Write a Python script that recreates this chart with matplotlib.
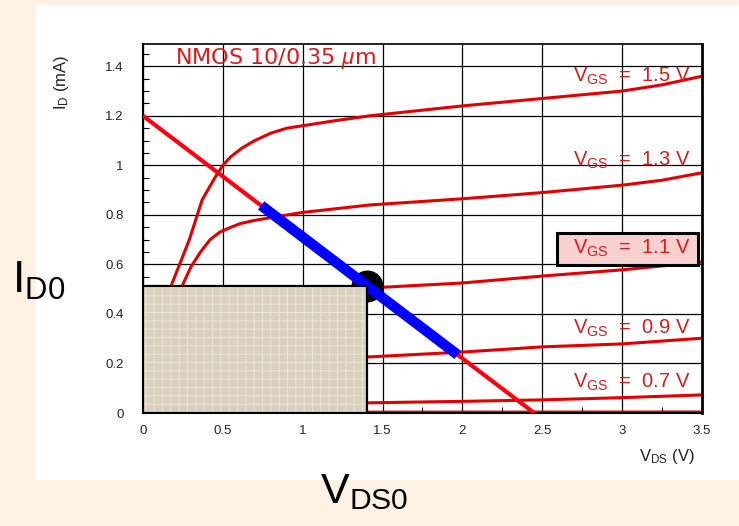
import numpy as np
import matplotlib.pyplot as plt
from matplotlib.patches import Rectangle

plt.rcParams['font.family'] = ['Liberation Sans', 'DejaVu Sans']
plt.rcParams['mathtext.fontset'] = 'custom'
plt.rcParams['mathtext.rm'] = 'Liberation Sans'
plt.rcParams['mathtext.it'] = 'Liberation Sans:italic'
plt.rcParams['hatch.linewidth'] = 0.7

### DADOS ###

# curvas I_D x V_DS (mA x V) para cada V_GS
vgs_labels = ['1.5', '1.3', '1.1', '0.9', '0.7']
vds_15 = [0.0, 0.10, 0.18, 0.29, 0.37, 0.45, 0.50, 0.55, 0.62, 0.70, 0.80, 0.90, 1.0, 1.2, 1.42,
          2.0, 2.5, 3.0, 3.25, 3.5]
id_15 = [0.0, 0.22, 0.52, 0.70, 0.86, 0.95, 1.00, 1.035, 1.07, 1.10, 1.13, 1.15, 1.16, 1.18, 1.20,
         1.24, 1.27, 1.30, 1.325, 1.36]
vds_13 = [0.0, 0.12, 0.25, 0.30, 0.36, 0.42, 0.48, 0.55, 0.61, 0.70, 0.81, 1.0, 1.42, 2.0, 2.5,
          3.0, 3.25, 3.5]
id_13 = [0.0, 0.25, 0.52, 0.59, 0.65, 0.70, 0.73, 0.75, 0.765, 0.778, 0.79, 0.81, 0.84, 0.865,
         0.89, 0.92, 0.94, 0.97]
vds_11 = [0.0, 0.3, 0.6, 1.0, 1.42, 2.0, 2.5, 3.0, 3.5]
id_11 = [0.0, 0.35, 0.46, 0.49, 0.505, 0.525, 0.553, 0.578, 0.61]
vds_09 = [0.0, 0.3, 0.7, 1.4, 2.0, 2.5, 3.0, 3.5]
id_09 = [0.0, 0.18, 0.215, 0.226, 0.246, 0.267, 0.279, 0.302]
vds_07 = [0.0, 0.2, 0.6, 1.4, 2.0, 2.5, 3.0, 3.5]
id_07 = [0.0, 0.03, 0.038, 0.041, 0.047, 0.053, 0.062, 0.073]
vds_05 = [0.0, 3.5]
id_05 = [0.003, 0.004]

# posicao dos rotulos V_GS (corrente em mA)
label_y = [1.36, 1.02, 0.663, 0.343, 0.125]

# reta de carga
load_v = [0.0, 2.45]
load_i = [1.2, 0.0]
# trecho azul sobre a reta de carga
blue_v = [0.74, 1.97]
blue_i = [0.838, 0.235]
# ponto de operacao
vq = 1.405
iq = 0.513

### FIGURA ###

fig = plt.figure(figsize=(7.39, 5.26), dpi=100, facecolor='#FDF1E4')
fig.patches.append(Rectangle((36/739, 1-480/526), (739-36)/739, (480-5)/526,
                             transform=fig.transFigure, facecolor='white',
                             edgecolor='none', zorder=-10))

ax = fig.add_axes([143/739, 1-413/526, (702-143)/739, (413-44)/526])
ax.set_xlim(0, 3.5)
ax.set_ylim(0, 1.49)

xt = np.arange(0, 3.51, 0.5)
yt = np.arange(0, 1.41, 0.2)
ax.set_xticks(xt)
ax.set_xticklabels(['0', '0.5', '1', '1.5', '2', '2.5', '3', '3.5'])
ax.set_yticks(yt)
ax.set_yticklabels(['0', '0.2', '0.4', '0.6', '0.8', '1', '1.2', '1.4'])
ax.set_xticks(np.arange(0, 3.51, 0.25), minor=True)
ax.set_yticks(np.arange(0, 1.49, 0.05), minor=True)
ax.tick_params(which='both', direction='in', colors='black', labelcolor='#222222',
               labelsize=9.5)
ax.tick_params(which='major', length=0)
ax.tick_params(which='minor', length=4, width=0.8)
ax.tick_params(axis='y', pad=14)
ax.tick_params(axis='x', pad=9)
ax.grid(True, which='major', color='black', lw=0.9)
ax.set_axisbelow(True)
for s in ax.spines.values():
    s.set_linewidth(1.2)
ax.spines['right'].set_linewidth(2)
ax.spines['bottom'].set_linewidth(1.5)
ax.spines['left'].set_linewidth(1.5)

curve_red = '#E30000'
for vv, ii in [(vds_15, id_15), (vds_13, id_13), (vds_11, id_11),
               (vds_09, id_09), (vds_07, id_07), (vds_05, id_05)]:
    ax.plot(vv, ii, color=curve_red, lw=2.2, zorder=2, solid_capstyle='butt',
            solid_joinstyle='round')

ax.plot(load_v, load_i, color='#FF0010', lw=3.0, zorder=3, solid_capstyle='butt')
ax.plot(vq, iq, 'o', color='black', ms=22, zorder=3.5)
ax.plot(blue_v, blue_i, color='#0000FF', lw=7.5, zorder=4, solid_capstyle='butt')

# retangulo texturizado
ax.add_patch(Rectangle((0, 0), vq, iq, facecolor='#D9D0BD', edgecolor='#EDE7DA',
                       hatch='++', lw=0, zorder=5))
ax.add_patch(Rectangle((0, 0), vq, iq, facecolor='none', edgecolor='black',
                       lw=1.6, zorder=5.1))

txt_red = '#D81B1B'
ax.text(0.2, 1.43, r'NMOS 10/0.35 $\mu$m', color=txt_red, fontsize=16,
        family='DejaVu Sans', va='center', ha='left', zorder=6)
for lab, yy in zip(vgs_labels, label_y):
    ax.text(2.69, yy, r'V$_{\mathregular{GS}}$  =  ' + lab + ' V', color=txt_red,
            fontsize=14.5, va='center', ha='left', zorder=7)

ax.add_patch(Rectangle((2.59, 0.598), 0.885, 0.129, facecolor='#F9D0D0',
                       edgecolor='black', lw=2.2, zorder=6))

ax.text(-0.145, 0.895, r'I$_{\mathregular{D}}$ (mA)', rotation=90, fontsize=12,
        color='#222222', transform=ax.transAxes, ha='center', va='center')
ax.text(0.937, -0.119, r'V$_{\mathregular{DS}}$ (V)', fontsize=12,
        color='#222222', transform=ax.transAxes, ha='center', va='center')

fig.text(12/739, 1-293/526, r'I$_{\mathregular{D0}}$', fontsize=32, color='black',
         ha='left', va='baseline')
fig.text(320/739, 1-503/526, r'V$_{\mathregular{DS0}}$', fontsize=31, color='black',
         ha='left', va='baseline')

fig.savefig('out.png', dpi=100, facecolor=fig.get_facecolor())
